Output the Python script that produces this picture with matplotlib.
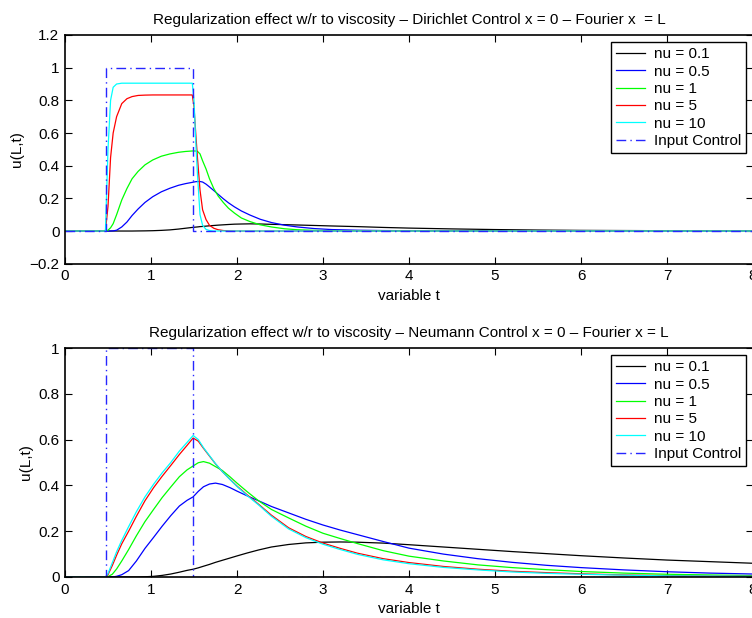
import matplotlib
matplotlib.use("Agg")
import matplotlib.pyplot as plt

# ---------------- data ----------------
labels = ["nu = 0.1", "nu = 0.5", "nu = 1", "nu = 5", "nu = 10"]
colors = ["k", (0, 0, 1), (0, 1, 0), (1, 0, 0), (0, 1, 1)]

# Top: Dirichlet control
t_top = [0, 0.47, 0.50, 0.53, 0.56, 0.60, 0.66, 0.72, 0.78, 0.85, 0.93, 1.02,
         1.12, 1.22, 1.32, 1.40, 1.48, 1.50, 1.52, 1.54, 1.57, 1.60, 1.64, 1.68,
         1.73, 1.78, 1.84, 1.90, 1.97, 2.05, 2.15, 2.27, 2.40, 2.55, 2.70, 2.90,
         3.1, 3.4, 3.7, 4.0, 4.5, 5.0, 5.5, 6.0, 7.0, 8.0]
top_nu01 = [0, 0, 0, 0, 0, 0, 0, 0, 0, 0.0005, 0.001, 0.002,
            0.004, 0.007, 0.012, 0.017, 0.022, 0.023, 0.024, 0.025, 0.027, 0.028, 0.030, 0.032,
            0.034, 0.036, 0.038, 0.040, 0.042, 0.043, 0.044, 0.043, 0.041, 0.039, 0.037, 0.034,
            0.031, 0.027, 0.022, 0.018, 0.013, 0.009, 0.006, 0.004, 0.002, 0.001]
top_nu05 = [0, 0, 0, 0, 0.001, 0.005, 0.025, 0.055, 0.095, 0.135, 0.175, 0.21,
            0.24, 0.262, 0.28, 0.29, 0.298, 0.300, 0.302, 0.303, 0.303, 0.300, 0.287, 0.270,
            0.248, 0.225, 0.198, 0.173, 0.148, 0.123, 0.098, 0.072, 0.052, 0.036, 0.025, 0.015,
            0.009, 0.005, 0.003, 0.002, 0.001, 0.001, 0, 0, 0, 0]
top_nu1 = [0, 0, 0.005, 0.02, 0.045, 0.10, 0.19, 0.26, 0.32, 0.365, 0.405, 0.435,
           0.458, 0.472, 0.482, 0.487, 0.490, 0.490, 0.490, 0.488, 0.472, 0.430, 0.380, 0.320,
           0.260, 0.215, 0.175, 0.140, 0.110, 0.080, 0.058, 0.038, 0.025, 0.014, 0.008, 0.004,
           0.002, 0.001, 0, 0, 0, 0, 0, 0, 0, 0]
top_nu5 = [0, 0, 0.15, 0.45, 0.60, 0.70, 0.78, 0.81, 0.823, 0.83, 0.832, 0.833,
           0.833, 0.833, 0.833, 0.833, 0.833, 0.76, 0.60, 0.45, 0.25, 0.13, 0.07, 0.035,
           0.017, 0.008, 0.003, 0.001, 0, 0, 0, 0, 0, 0, 0, 0,
           0, 0, 0, 0, 0, 0, 0, 0, 0, 0]
top_nu10 = [0, 0, 0.50, 0.80, 0.88, 0.90, 0.905, 0.905, 0.905, 0.905, 0.905, 0.905,
            0.905, 0.905, 0.905, 0.905, 0.905, 0.80, 0.55, 0.35, 0.10, 0.035, 0.010, 0.003,
            0, 0, 0, 0, 0, 0, 0, 0, 0, 0, 0, 0,
            0, 0, 0, 0, 0, 0, 0, 0, 0, 0]

# Bottom: Neumann control
t_bot = [0, 0.47, 0.50, 0.55, 0.60, 0.66, 0.74, 0.83, 0.93, 1.03, 1.13, 1.23,
         1.33, 1.42, 1.49, 1.55, 1.61, 1.68, 1.75, 1.83, 1.92, 2.0, 2.12, 2.25,
         2.4, 2.6, 2.8, 3.0, 3.2, 3.4, 3.7, 4.0, 4.4, 4.8, 5.2, 5.6, 6.0, 6.5,
         7.0, 7.5, 8.0]
bot_nu01 = [0, 0, 0, 0, 0, 0, 0, 0, 0.001, 0.003, 0.007, 0.013,
            0.021, 0.029, 0.034, 0.040, 0.047, 0.055, 0.064, 0.073, 0.083, 0.092, 0.105, 0.118,
            0.131, 0.142, 0.149, 0.152, 0.153, 0.152, 0.148, 0.141, 0.131, 0.121, 0.111, 0.102,
            0.093, 0.083, 0.074, 0.067, 0.060]
bot_nu05 = [0, 0, 0, 0, 0.003, 0.010, 0.028, 0.070, 0.125, 0.173, 0.222, 0.268,
            0.310, 0.335, 0.350, 0.374, 0.394, 0.406, 0.410, 0.404, 0.390, 0.375, 0.354, 0.333,
            0.308, 0.280, 0.252, 0.227, 0.205, 0.185, 0.155, 0.126, 0.100, 0.080, 0.064, 0.051,
            0.041, 0.031, 0.023, 0.017, 0.013]
bot_nu1 = [0, 0, 0.002, 0.012, 0.035, 0.070, 0.120, 0.180, 0.242, 0.295, 0.347, 0.393,
           0.438, 0.468, 0.485, 0.499, 0.504, 0.497, 0.482, 0.465, 0.437, 0.410, 0.372, 0.333,
           0.295, 0.258, 0.222, 0.191, 0.168, 0.146, 0.115, 0.091, 0.070, 0.053, 0.041, 0.032,
           0.024, 0.017, 0.012, 0.009, 0.006]
bot_nu5 = [0, 0, 0.010, 0.050, 0.095, 0.145, 0.200, 0.265, 0.333, 0.390, 0.440, 0.487,
           0.535, 0.575, 0.607, 0.593, 0.562, 0.528, 0.494, 0.460, 0.426, 0.397, 0.358, 0.318,
           0.270, 0.215, 0.177, 0.148, 0.125, 0.104, 0.080, 0.063, 0.046, 0.034, 0.025, 0.019,
           0.014, 0.009, 0.006, 0.004, 0.003]
bot_nu10 = [0, 0, 0.015, 0.062, 0.110, 0.160, 0.220, 0.285, 0.350, 0.405, 0.455, 0.500,
            0.550, 0.588, 0.618, 0.600, 0.565, 0.530, 0.495, 0.460, 0.425, 0.395, 0.355, 0.315,
            0.265, 0.210, 0.172, 0.143, 0.120, 0.099, 0.075, 0.058, 0.042, 0.031, 0.022, 0.016,
            0.012, 0.008, 0.005, 0.004, 0.003]

# Input control (step on [0.477, 1.485])
t_ctrl = [0, 0.477, 0.477, 1.485, 1.485, 8]
u_ctrl = [0, 0, 1, 1, 0, 0]

title_top = "Regularization effect w/r to viscosity \u2013 Dirichlet Control x = 0 \u2013 Fourier x  = L"
title_bot = "Regularization effect w/r to viscosity \u2013 Neumann Control x = 0 \u2013 Fourier x = L"

# ---------------- figure ----------------
plt.rcParams['font.family'] = ['Liberation Sans', 'DejaVu Sans']
W, H = 752, 618
fig = plt.figure(figsize=(W / 100, H / 100), dpi=100)

def px_axes(left, top, right, bottom):
    return [left / W, 1 - bottom / H, (right - left) / W, (bottom - top) / H]

ax1 = fig.add_axes(px_axes(65, 35, 753, 263.7))
ax2 = fig.add_axes(px_axes(65, 348, 753, 577))

def draw(ax, t, series, ylim, yticks, title):
    for y, c, lab in zip(series, colors, labels):
        ax.plot(t, y, color=c, lw=0.9, label=lab)
    ax.plot(t_ctrl, u_ctrl, color=(0.15, 0.15, 1.0), lw=1.0,
            linestyle=(0, (7, 3, 1, 3)), label="Input Control")
    ax.set_xlim(0, 8)
    ax.set_ylim(*ylim)
    ax.set_yticks(yticks)
    ax.set_xticks(range(0, 9))
    ax.set_yticklabels([("%g" % v).replace("-", "\u2212") for v in yticks])
    ax.tick_params(direction='in', top=True, right=True, length=5, width=0.8,
                   labelsize=11, pad=4)
    for s in ax.spines.values():
        s.set_linewidth(1.2)
    ax.set_xlabel("variable t", fontsize=11, labelpad=4)
    ax.set_ylabel("u(L,t)", fontsize=11, labelpad=4)
    ax.set_title(title, fontsize=11, pad=8)
    leg = ax.legend(loc='upper right', bbox_to_anchor=(0.99, 0.97), fontsize=11,
                    frameon=True, fancybox=False, edgecolor='k', framealpha=1,
                    handlelength=1.9, handletextpad=0.55, labelspacing=0.22,
                    borderpad=0.35, borderaxespad=0)
    leg.get_frame().set_linewidth(1.0)

draw(ax1, t_top, [top_nu01, top_nu05, top_nu1, top_nu5, top_nu10],
     (-0.2, 1.2), [-0.2, 0, 0.2, 0.4, 0.6, 0.8, 1, 1.2], title_top)
draw(ax2, t_bot, [bot_nu01, bot_nu05, bot_nu1, bot_nu5, bot_nu10],
     (0, 1), [0, 0.2, 0.4, 0.6, 0.8, 1], title_bot)

fig.savefig("out.png", dpi=100)
